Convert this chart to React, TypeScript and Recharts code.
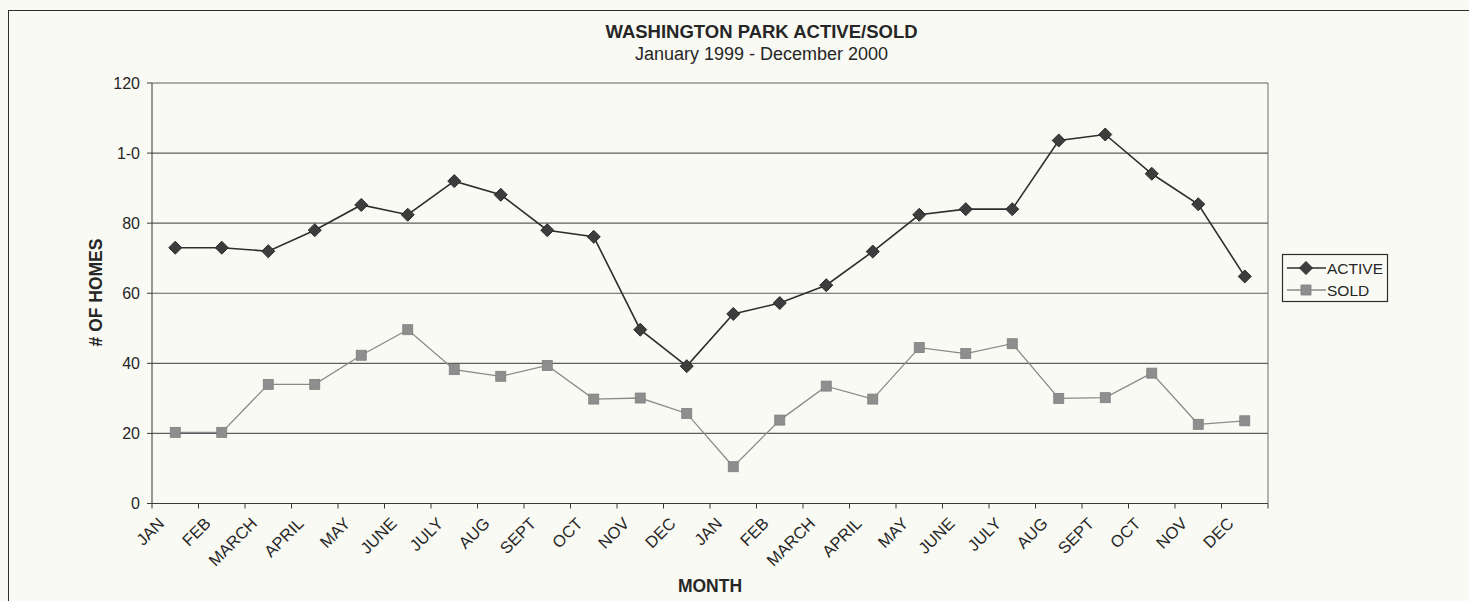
import { LineChart, Line, XAxis, YAxis, CartesianGrid, ReferenceLine } from "recharts";

const MONTH_NAMES = ["JAN", "FEB", "MARCH", "APRIL", "MAY", "JUNE", "JULY", "AUG", "SEPT", "OCT", "NOV", "DEC"];
// Jan 1999 .. Dec 2000
const MONTHS = [...MONTH_NAMES, ...MONTH_NAMES];

const ACTIVE = [73, 73, 72, 78, 85.2, 82.4, 92, 88.1, 78, 76.1, 49.6, 39.2, 54.1, 57.2, 62.3, 71.9, 82.4, 84, 84, 103.6, 105.3, 94.1, 85.4, 64.8];
const SOLD = [20.3, 20.3, 34, 34, 42.3, 49.6, 38.2, 36.3, 39.4, 29.8, 30.1, 25.7, 10.5, 23.8, 33.5, 29.8, 44.5, 42.8, 45.6, 30, 30.2, 37.2, 22.6, 23.6];

const Y_TICKS = [0, 20, 40, 60, 80, 100, 120];
// the scan shows the 100 label smudged as "1-0"
const Y_TICK_LABELS = ["0", "20", "40", "60", "80", "1-0", "120"];
const X_BOUNDARIES = Array.from({ length: MONTHS.length + 1 }, (_, i) => i);

const data = MONTHS.map((m, i) => ({ pos: i + 0.5, month: m, active: ACTIVE[i], sold: SOLD[i] }));

const W = 1469;
const H = 601;
const PLOT_LEFT = 152;
const PLOT_RIGHT = 1268;
const PLOT_TOP = 83;
const PLOT_BOTTOM = 503.5;
const CAT_W = (PLOT_RIGHT - PLOT_LEFT) / MONTHS.length;

const FONT = "'Liberation Sans', Arial, sans-serif";
const BG = "#fafaf4";
const INK = "#262626";

const DiamondDot = (props: any) => {
  const { cx, cy } = props;
  if (cx == null || cy == null) return null;
  const r = 6.5;
  return (
    <polygon
      points={`${cx},${cy - r} ${cx + r},${cy} ${cx},${cy + r} ${cx - r},${cy}`}
      fill="#3d3d3d"
      stroke="#2a2a2a"
      strokeWidth={1}
    />
  );
};

const SquareDot = (props: any) => {
  const { cx, cy } = props;
  if (cx == null || cy == null) return null;
  return <rect x={cx - 5} y={cy - 5} width={10} height={10} fill="#8e8e8e" stroke="#7e7e7e" strokeWidth={0.8} />;
};

const MonthTick = (props: any) => {
  const { x, y, payload } = props;
  const i = payload.value;
  if (i >= MONTHS.length) return null;
  const ax = x + CAT_W / 2 - 10;
  const ay = y + 16;
  return (
    <text
      x={ax}
      y={ay}
      textAnchor="end"
      transform={`rotate(-45, ${ax}, ${ay})`}
      fontSize={16.5}
      fontFamily={FONT}
      fill={INK}
    >
      {MONTHS[i]}
    </text>
  );
};

export default function App() {
  return (
    <div style={{ position: "fixed", left: 0, top: 0, width: W, height: H, background: BG, overflow: "hidden" }}>
      <div
        style={{
          position: "absolute",
          left: 8,
          top: 10,
          width: 1480,
          height: 620,
          border: "1.5px solid #2e2e2e",
        }}
      />
      <div style={{ position: "absolute", left: 0, top: 0 }}>
        <LineChart
          width={W}
          height={H}
          data={data}
          margin={{ top: PLOT_TOP, right: W - PLOT_RIGHT, bottom: H - PLOT_BOTTOM - 60, left: PLOT_LEFT - 60 }}
        >
          <CartesianGrid vertical={false} stroke="#5e5e5e" strokeWidth={1.1} />
          <XAxis
            type="number"
            dataKey="pos"
            domain={[0, MONTHS.length]}
            ticks={X_BOUNDARIES}
            interval={0}
            height={60}
            tickSize={5}
            tickMargin={0}
            stroke="#3a3a3a"
            tick={<MonthTick />}
          />
          <YAxis
            type="number"
            domain={[0, 120]}
            ticks={Y_TICKS}
            interval={0}
            width={60}
            tickSize={5}
            tickMargin={7}
            stroke="#3a3a3a"
            tick={{ fontSize: 16, fontFamily: FONT, fill: INK }}
            tickFormatter={(v: number) => Y_TICK_LABELS[Y_TICKS.indexOf(v)]}
          />
          <ReferenceLine x={MONTHS.length} stroke="#6e6e6e" />
          <Line
            dataKey="sold"
            stroke="#8a8a8a"
            strokeWidth={1.3}
            dot={<SquareDot />}
            isAnimationActive={false}
          />
          <Line
            dataKey="active"
            stroke="#2e2e2e"
            strokeWidth={1.6}
            dot={<DiamondDot />}
            isAnimationActive={false}
          />
        </LineChart>
      </div>
      <svg width={W} height={H} style={{ position: "absolute", left: 0, top: 0, pointerEvents: "none" }}>
        <text x={761.5} y={37.5} textAnchor="middle" fontSize={18.5} fontWeight="bold" fontFamily={FONT} fill={INK}>
          WASHINGTON PARK ACTIVE/SOLD
        </text>
        <text x={761.5} y={60} textAnchor="middle" fontSize={18} fontFamily={FONT} fill={INK}>
          January 1999 - December 2000
        </text>
        <text
          x={102}
          y={292.5}
          textAnchor="middle"
          fontSize={17.5}
          fontWeight="bold"
          fontFamily={FONT}
          fill={INK}
          transform="rotate(-90, 102, 292.5)"
        >
          # OF HOMES
        </text>
        <text x={710} y={592} textAnchor="middle" fontSize={17.5} fontWeight="bold" fontFamily={FONT} fill={INK}>
          MONTH
        </text>
        <g>
          <rect x={1282.5} y={254.5} width={105} height={47} fill={BG} stroke="#2e2e2e" strokeWidth={1.2} />
          <line x1={1287} y1={268} x2={1326} y2={268} stroke="#2e2e2e" strokeWidth={1.6} />
          <polygon points="1306,261.5 1312.5,268 1306,274.5 1299.5,268" fill="#3d3d3d" stroke="#2a2a2a" />
          <text x={1327} y={273.5} fontSize={15.5} fontFamily={FONT} fill={INK}>
            ACTIVE
          </text>
          <line x1={1287} y1={290} x2={1326} y2={290} stroke="#8a8a8a" strokeWidth={1.3} />
          <rect x={1301} y={285} width={10} height={10} fill="#8e8e8e" stroke="#7e7e7e" strokeWidth={0.8} />
          <text x={1327} y={295.5} fontSize={15.5} fontFamily={FONT} fill={INK}>
            SOLD
          </text>
        </g>
      </svg>
    </div>
  );
}
